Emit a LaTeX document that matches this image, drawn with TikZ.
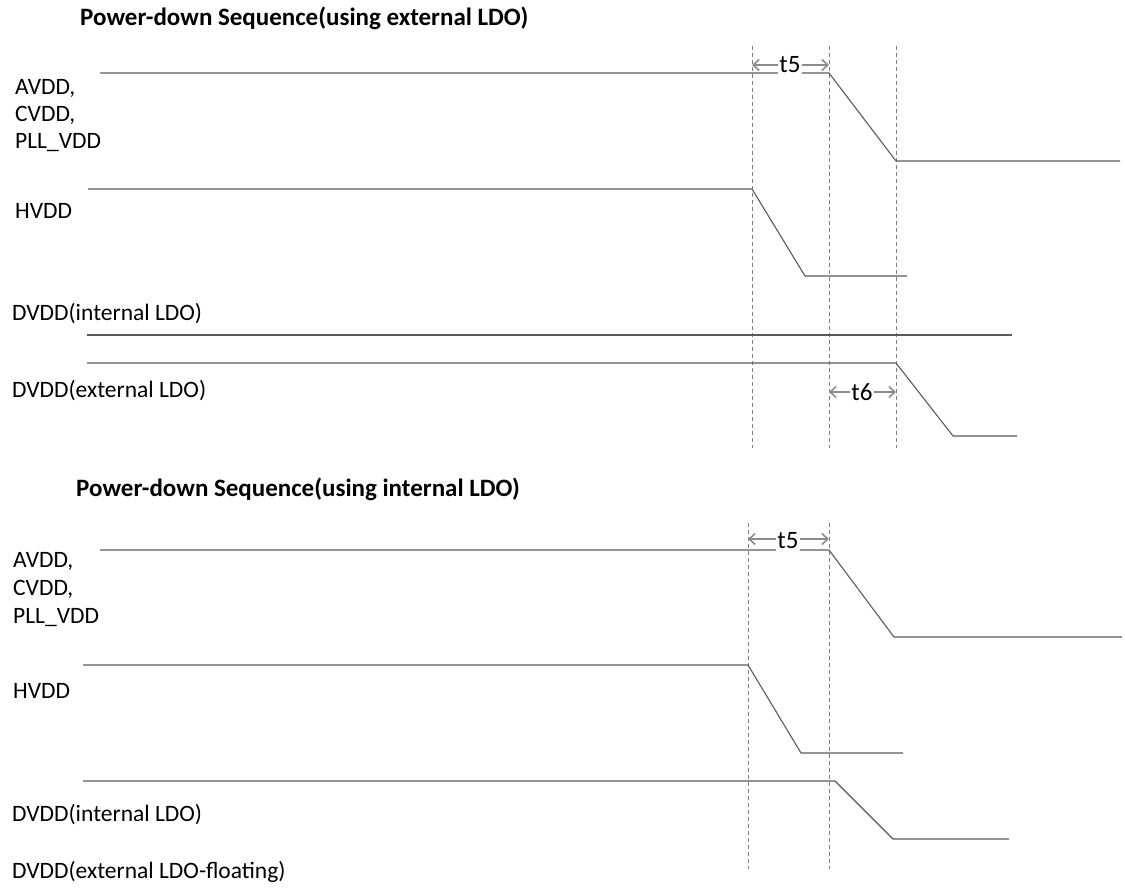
\documentclass[tikz,border=0pt]{standalone}
\usepackage{fontspec}
\setmainfont{Carlito}
\usetikzlibrary{arrows.meta}
\definecolor{wavegray}{HTML}{5A5A5A}
\definecolor{markgray}{HTML}{7F7F7F}
\definecolor{dimgray}{HTML}{8C8C8C}
\tikzset{
  wave/.style={draw=wavegray, line width=1.1pt, line join=miter},
  marker/.style={draw=markgray, line width=0.9pt, dash pattern=on 4pt off 3pt},
  dim/.style={draw=dimgray, line width=1.6pt,
    {Straight Barb[length=6pt,width=11pt]}-{Straight Barb[length=6pt,width=11pt]}},
  sig/.style={anchor=base west, inner sep=0pt, font=\fontsize{23.5}{28}\selectfont},
  heading/.style={anchor=base west, inner sep=0pt, font=\fontsize{25}{30}\selectfont\bfseries},
  tlabel/.style={fill=white, inner sep=1.5pt, font=\fontsize{25}{30}\selectfont}
}
\begin{document}
\begin{tikzpicture}[x=1pt, y=-1pt]
\useasboundingbox (0,0) rectangle (1125,896);

% ---------- external LDO sequence ----------
\node[heading] (h1) at (80,26) {Power-down Sequence(using external LDO)};

\node[sig] (a1) at (15,95)  {AVDD,};
\node[sig] (c1) at (15,122) {CVDD,};
\node[sig] (p1) at (15,149) {PLL\_VDD};
\node[sig] (hv1) at (15,219) {HVDD};
\node[sig] (di1) at (12,320) {DVDD(internal LDO)};
\node[sig] (de1) at (12,397) {DVDD(external LDO)};

% timing markers
\coordinate (m1a) at (752,46);  \coordinate (m1b) at (752,448);
\coordinate (m2a) at (829,46);  \coordinate (m2b) at (829,448);
\coordinate (m3a) at (896,46);  \coordinate (m3b) at (896,448);
\draw[marker] (m1a) -- (m1b);
\draw[marker] (m2a) -- (m2b);
\draw[marker] (m3a) -- (m3b);

% supply waveforms
\draw[wave] (100,73) -- (829,73) -- (896,161) -- (1120,161);
\draw[wave] (88,189) -- (752,189) -- (805,276) -- (907,276);
\draw[wave] (87,335) -- (1012,335);
\draw[wave] (87,363) -- (896,363) -- (953,436) -- (1017,436);

% delays
\coordinate (t5l) at (752,65); \coordinate (t5r) at (829,65);
\draw[dim] (t5l) -- (t5r);
\node[tlabel] (t5a) at (790,65) {t5};
\coordinate (t6l) at (829,392); \coordinate (t6r) at (896,392);
\draw[dim] (t6l) -- (t6r);
\node[tlabel] (t6a) at (862,392) {t6};

% ---------- internal LDO sequence ----------
\node[heading] (h2) at (76,496) {Power-down Sequence(using internal LDO)};

\node[sig] (a2) at (13,567) {AVDD,};
\node[sig] (c2) at (13,595) {CVDD,};
\node[sig] (p2) at (13,623) {PLL\_VDD};
\node[sig] (hv2) at (13,698) {HVDD};
\node[sig] (di2) at (12,821) {DVDD(internal LDO)};
\node[sig] (de2) at (12,878) {DVDD(external LDO-floating)};

\coordinate (n1a) at (748,523); \coordinate (n1b) at (748,869);
\coordinate (n2a) at (829,523); \coordinate (n2b) at (829,869);
\draw[marker] (n1a) -- (n1b);
\draw[marker] (n2a) -- (n2b);

\draw[wave] (100,550) -- (829,550) -- (894,637) -- (1122,637);
\draw[wave] (83,665) -- (748,665) -- (801,753) -- (903,753);
\draw[wave] (83,781) -- (835,781) -- (893,839) -- (1009,839);

\coordinate (u5l) at (748,539); \coordinate (u5r) at (829,539);
\draw[dim] (u5l) -- (u5r);
\node[tlabel] (t5b) at (788,541) {t5};
\end{tikzpicture}
\end{document}
